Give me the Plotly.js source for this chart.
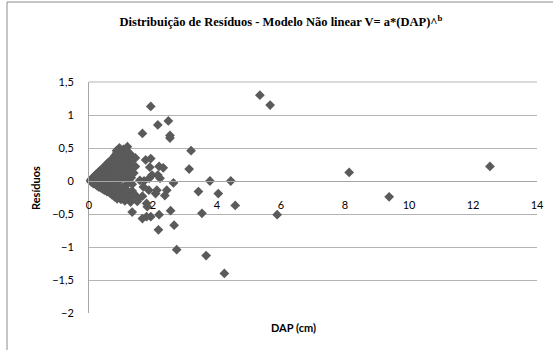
<!DOCTYPE html>
<html>
<head>
<meta charset="utf-8">
<script src="https://cdn.plot.ly/plotly-3.0.1.min.js"></script>
<style>html,body{margin:0;padding:0;background:#fff;}#chart{width:553px;height:350px;}</style>
</head>
<body>
<div id="chart"></div>
<script>
// DAP (cm) values
const dap = [
  0.05,0.06,0.08,0.10,0.12,0.14,0.15,0.18,0.20,0.22,0.24,0.25,0.28,0.30,0.30,0.33,0.35,0.36,0.38,0.40,
  0.42,0.44,0.45,0.48,0.50,0.50,0.52,0.55,0.56,0.58,0.60,0.60,0.62,0.65,0.66,0.68,0.70,0.72,0.74,0.75,
  0.78,0.80,0.80,0.82,0.85,0.86,0.88,0.90,0.92,0.95,0.97,1.00,1.00,1.02,1.05,1.08,1.10,1.12,1.15,1.18,
  1.20,1.22,1.25,1.28,1.30,1.32,1.35,1.38,0.95,1.20,1.30,1.45,1.25,0.86,1.18,1.28,
  0.18,0.25,0.30,0.35,0.38,0.40,0.42,0.45,0.48,0.50,0.52,0.55,0.55,0.58,0.60,0.62,0.65,0.65,0.68,0.70,
  0.70,0.72,0.75,0.75,0.78,0.80,0.80,0.82,0.85,0.85,0.88,0.90,0.90,0.92,0.95,0.95,0.98,1.00,1.00,1.05,
  1.05,1.10,1.10,1.12,1.15,1.15,1.20,1.20,1.25,1.25,1.30,1.30,1.35,1.40,1.42,1.45,
  1.77,1.93,2.19,1.97,1.72,1.87,2.08,1.67,1.51,1.82,1.35,1.67,1.93,2.19,
  1.93,2.15,2.48,1.67,2.53,2.53,1.90,2.32,2.15,1.88,2.22,2.64,2.43,2.12,2.37,1.59,1.70,1.38,1.54,1.80,
  2.17,2.66,2.74,1.80,2.55,
  3.19,3.13,3.78,4.43,3.42,4.04,4.57,3.53,5.88,3.66,4.23,5.34,5.66,
  8.13,9.38,12.53
];
// Resíduos values
const residuos = [
  0.01,-0.01,0.03,-0.02,0.05,-0.04,0.02,0.08,-0.05,0.10,0.00,-0.07,0.12,0.05,-0.09,0.15,-0.02,-0.10,0.17,0.08,
  -0.12,0.20,0.02,-0.14,0.22,0.12,-0.05,0.25,-0.16,0.06,0.28,-0.10,0.16,-0.18,0.30,0.00,0.22,-0.21,0.34,0.10,
  -0.08,0.38,-0.24,0.26,0.04,0.42,-0.27,0.16,-0.15,0.44,0.30,-0.28,0.08,0.38,-0.10,0.48,0.20,-0.30,0.35,-0.05,
  0.12,-0.22,0.42,0.28,-0.32,0.05,-0.15,0.20,0.50,0.52,0.40,0.35,0.32,0.46,0.46,0.41,
  -0.02,0.04,0.00,0.08,0.03,-0.05,0.13,0.10,0.05,-0.08,0.18,0.00,0.12,0.20,0.04,-0.05,0.10,0.24,-0.12,0.05,
  0.15,0.28,-0.02,0.20,0.12,0.30,-0.15,0.00,0.22,-0.20,0.35,0.08,-0.08,0.25,0.00,-0.22,0.15,0.40,-0.15,0.30,
  0.05,-0.20,0.42,0.10,-0.12,0.25,0.00,0.35,-0.25,0.18,0.10,0.30,-0.05,0.12,-0.20,0.22,
  0.32,0.34,0.22,0.09,0.00,-0.14,-0.19,-0.23,-0.31,-0.39,-0.47,-0.57,-0.54,-0.51,
  1.13,0.85,0.91,0.72,0.69,0.65,0.21,0.20,0.09,0.04,0.04,-0.03,-0.14,-0.14,-0.22,0.01,-0.09,-0.22,-0.27,-0.34,
  -0.74,-0.67,-1.04,-0.54,-0.45,
  0.46,0.18,0.00,0.00,-0.16,-0.19,-0.37,-0.49,-0.51,-1.13,-1.40,1.30,1.15,
  0.13,-0.24,0.22
];
const xTickVals = [0,2,4,6,8,10,12,14];
const yTickVals = [-2,-1.5,-1,-0.5,0,0.5,1,1.5];

const trace = {
  x: dap, y: residuos, type: 'scatter', mode: 'markers',
  marker: {symbol: 'diamond', size: 7.5, color: '#5a5a5a', line: {width: 0}},
  hoverinfo: 'x+y', cliponaxis: false
};

const layout = {
  width: 553, height: 350,
  margin: {l: 89, r: 16, t: 82, b: 37, pad: 0},
  paper_bgcolor: '#fff', plot_bgcolor: '#fff',
  separators: ', ',
  showlegend: false,
  font: {family: 'Lato, "DejaVu Sans", sans-serif', size: 11, color: '#000'},
  title: {
    text: 'Distribuição de Resíduos - Modelo Não linear V= a*(DAP)^<sup>b</sup>',
    font: {family: '"Liberation Serif", "Times New Roman", serif', size: 12.5, color: '#000', weight: 'bold'},
    x: (281-89)/448, xref: 'paper', xanchor: 'center',
    y: 1 - 22/350, yref: 'container', yanchor: 'middle'
  },
  xaxis: {
    range: [0, 14], tickvals: xTickVals, showgrid: false, zeroline: false,
    anchor: 'free', position: 2/3.5,
    showline: true, linecolor: '#a6a6a6', linewidth: 1,
    ticks: '', ticklabelstandoff: 14,
    tickfont: {family: 'Lato, sans-serif', size: 11, color: '#000'},
    fixedrange: true
  },
  yaxis: {
    range: [-2, 1.5], tickvals: yTickVals, tickformat: '.1~f',
    showgrid: true, gridcolor: '#b3b3b3', gridwidth: 1,
    zeroline: false,
    showline: true, linecolor: '#a6a6a6', linewidth: 1, mirror: false,
    ticks: '', ticklabelstandoff: 12,
    tickfont: {family: 'Lato, sans-serif', size: 11, color: '#000'},
    fixedrange: true
  },
  annotations: [
    {text: '<b>DAP (cm)</b>', xref: 'paper', yref: 'paper',
     x: (293-89)/448, y: (313-327)/231, xanchor: 'center', yanchor: 'middle',
     showarrow: false, font: {family: 'Lato, sans-serif', size: 11, color: '#000'}},
    {text: '<b>Resíduos</b>', xref: 'paper', yref: 'paper', textangle: -90,
     x: (35-89)/448, y: (313-188)/231, xanchor: 'center', yanchor: 'middle',
     showarrow: false, font: {family: 'Lato, sans-serif', size: 11, color: '#000'}}
  ],
  shapes: [
    {type: 'rect', xref: 'paper', yref: 'paper',
     x0: (7-89)/448, x1: (570-89)/448, y0: (313-370)/231, y1: (313-2)/231,
     line: {color: '#8c8c8c', width: 1}, fillcolor: 'rgba(0,0,0,0)', layer: 'below'},
    {type: 'line', xref: 'paper', yref: 'paper', x0: 0, x1: 1, y0: 1, y1: 1,
     line: {color: '#b3b3b3', width: 1}}
  ]
};

Plotly.newPlot('chart', [trace], layout, {displayModeBar: false, staticPlot: true});
</script>
</body>
</html>
